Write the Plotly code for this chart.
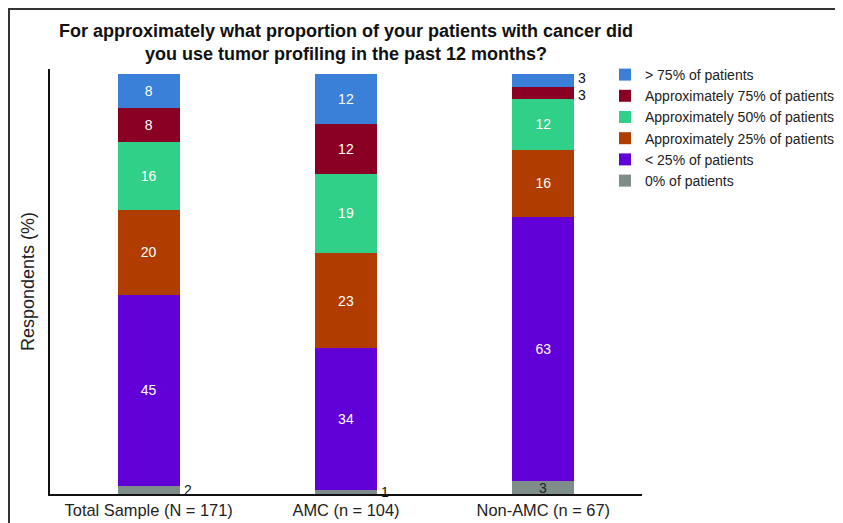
import plotly.graph_objects as go

categories = ["Total Sample (N = 171)", "AMC (n = 104)", "Non-AMC (n = 67)"]
series_names = ["0% of patients", "< 25% of patients", "Approximately 25% of patients",
                "Approximately 50% of patients", "Approximately 75% of patients", "> 75% of patients"]
zero_pct = [2, 1, 3]
lt25_pct = [45, 34, 63]
approx25_pct = [20, 23, 16]
approx50_pct = [16, 19, 12]
approx75_pct = [8, 12, 3]
gt75_pct = [8, 12, 3]
series_values = [zero_pct, lt25_pct, approx25_pct, approx50_pct, approx75_pct, gt75_pct]
colors = ["#7e8c8a", "#6200d8", "#b03c00", "#31d089", "#8a0024", "#3a80d8"]

W, H = 843, 523
ML, MR, MT, MB = 42, 209, 61, 37
PLOT_H = H - MT - MB
Y_MAX = 101.2
BAR_W = 0.315
SMALL = 3
inside_small = {(2, 0)}  # (category index, series index) small labels drawn inside the bar

fig = go.Figure()
for si, (name, vals, col) in enumerate(zip(series_names, series_values, colors)):
    texts = [str(v) if v > SMALL else "" for v in vals]
    fig.add_trace(go.Bar(
        x=categories, y=vals, name=name, marker=dict(color=col, line=dict(width=0)),
        width=BAR_W, text=texts, textposition="inside", insidetextanchor="middle",
        textfont=dict(color="white", size=14, family="Arial"),
        hoverinfo="skip",
    ))

# labels for small segments (normalised stacking positions)
px_per_unit = PLOT_H / Y_MAX
annotations = []
for ci in range(len(categories)):
    total = sum(sv[ci] for sv in series_values)
    cum = 0
    outside = []
    for si, sv in enumerate(series_values):
        v = sv[ci]
        mid = (cum + v / 2) / total * 100
        cum += v
        if v <= SMALL:
            if (ci, si) in inside_small:
                annotations.append(dict(x=ci, y=mid, xref="x", yref="y", text=str(v),
                                        showarrow=False, xanchor="center", yanchor="middle",
                                        font=dict(size=14, color="#222", family="Arial")))
            else:
                outside.append([mid, v, 0.0])
    # push apart adjacent outside labels so they do not overlap
    min_gap = 17.0
    for i in range(1, len(outside)):
        gap = (outside[i][0] - outside[i - 1][0]) * px_per_unit + outside[i][2] - outside[i - 1][2]
        if gap < min_gap:
            need = (min_gap - gap) / 2
            outside[i][2] += need
            outside[i - 1][2] -= need
    for mid, v, ys in outside:
        annotations.append(dict(x=ci + BAR_W / 2, y=mid, xref="x", yref="y", text=str(v),
                                showarrow=False, xanchor="left", yanchor="middle", xshift=2, yshift=ys,
                                font=dict(size=14, color="#111", family="Arial")))

pw = W - ML - MR
fig.update_layout(
    width=W, height=H,
    margin=dict(l=ML, r=MR, t=MT, b=MB, autoexpand=False),
    barmode="stack", barnorm="percent",
    paper_bgcolor="white", plot_bgcolor="white",
    title=dict(text="For approximately what proportion of your patients with cancer did<br>you use tumor profiling in the past 12 months?",
               x=0.5, xref="paper", xanchor="center", y=1 - 29 / H, yanchor="middle",
               font=dict(size=18, family="Arial", color="#111", weight="bold")),
    xaxis=dict(showline=True, linecolor="#111", linewidth=2, ticks="", showgrid=False, automargin=False,
               tickfont=dict(size=16.4, family="Arial", color="#222"), range=[-0.5, 2.5]),
    yaxis=dict(showline=True, linecolor="#111", linewidth=2, ticks="", showticklabels=False, automargin=False,
               showgrid=False, zeroline=False, range=[0, Y_MAX],
               title=dict(text="Respondents (%)", font=dict(size=18, family="Arial", color="#222"), standoff=9)),
    legend=dict(traceorder="reversed", x=(597 - ML) / pw, xanchor="left", y=1 + 10 / PLOT_H, yanchor="top",
                font=dict(size=14, family="Arial", color="#222"), bgcolor="rgba(0,0,0,0)",
                itemclick=False),
    annotations=annotations,
    shapes=[dict(type="rect", xref="paper", yref="paper",
                 x0=(1 - ML) / pw, x1=(842 - ML) / pw,
                 y0=(H - MB - 521) / PLOT_H, y1=(H - MB - 1) / PLOT_H,
                 line=dict(color="#333", width=2), fillcolor="rgba(0,0,0,0)", layer="above")],
)

fig.write_html("out.html")
